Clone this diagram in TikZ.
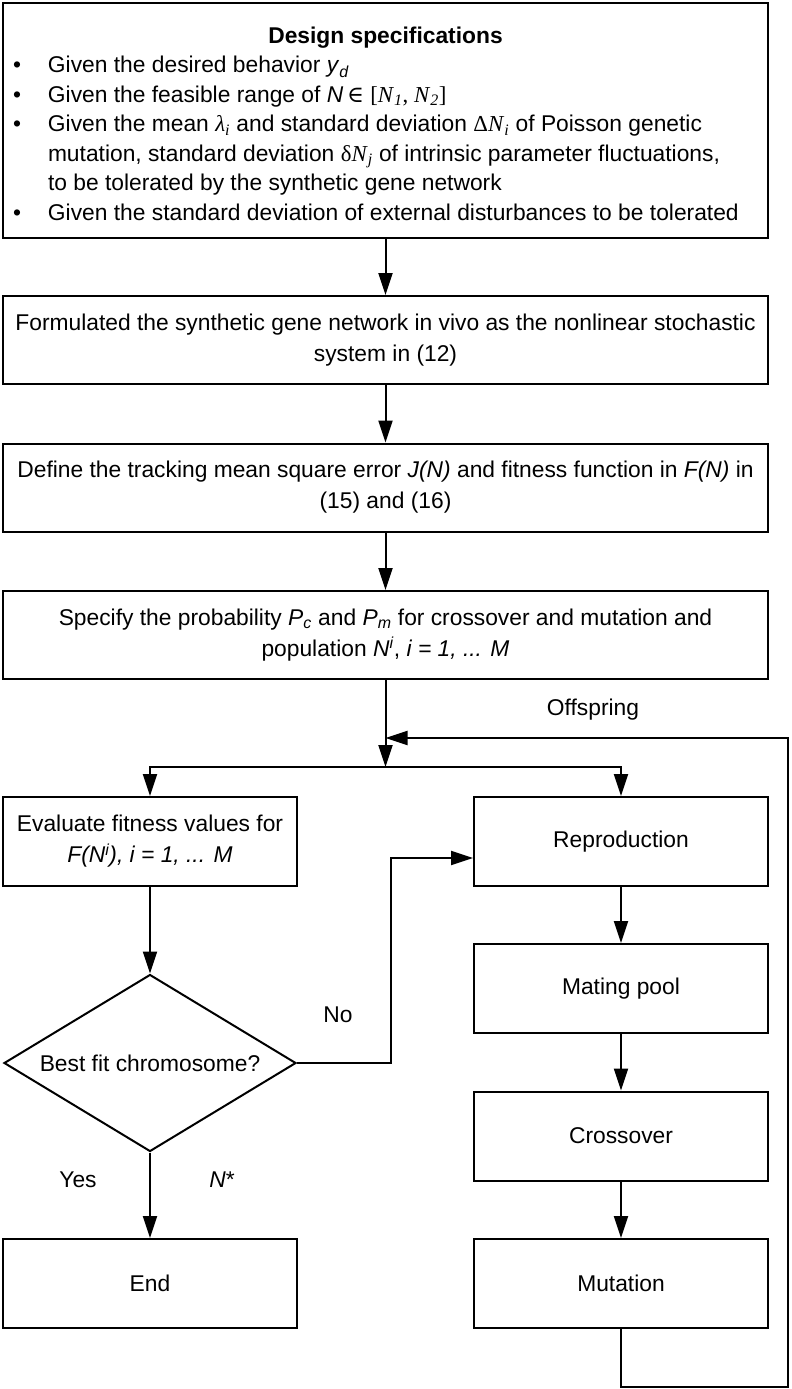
\documentclass[tikz,border=0pt]{standalone}
\usepackage{fontspec}
\setmainfont{Liberation Sans}
\newfontfamily\serifit{Liberation Serif}
\newfontfamily\dvs{DejaVu Serif}
\usetikzlibrary{arrows.meta,shapes.geometric}
\newcommand{\mysub}[1]{\textsubscript{#1}}
\newcommand{\mysup}[1]{\textsuperscript{#1}}
\newcommand{\bul}{\makebox[35pt][l]{\textbullet}}
\tikzset{
  txt/.style={font=\fontsize{22.8}{31}\selectfont},
  box/.style={draw, line width=2pt, minimum width=765pt, minimum height=88pt,
    inner sep=0pt, align=center, txt},
  sbox/.style={box, minimum width=294pt, minimum height=89pt},
  arr/.style={line width=2pt, -{Triangle[length=22pt,width=14pt]}},
  lbl/.style={txt, inner sep=0pt},
}
\begin{document}
\begin{tikzpicture}[x=1pt,y=-1pt]
\useasboundingbox (0,0) rectangle (792,1389);
% main column
\node[box, minimum height=235pt] (spec) at (385.5,120.5) {%
\begin{minipage}{745pt}\fontsize{22.8}{29.5}\selectfont\parindent=0pt
\vspace*{6pt}
{\centering\textbf{Design specifications}\par}
\raggedright
\bul Given the desired behavior \textit{y}\mysub{\textit{d}}\par
\bul Given the feasible range of \textit{N}\,{\dvs ∈} {\serifit [\textit{N}\mysub{\textit{1}}, \textit{N}\mysub{\textit{2}}]}\par
\hangindent=35pt\hangafter=1
\bul Given the mean {\serifit\textit{λ}\mysub{\textit{i}}} and standard deviation {\serifit Δ\textit{N}\mysub{\textit{i}}} of Poisson genetic\newline
mutation, standard deviation {\serifit δ\textit{N}\mysub{\textit{j}}} of intrinsic parameter fluctuations,\newline
to be tolerated by the synthetic gene network\par
\bul Given the standard deviation of external disturbances to be tolerated\par
\end{minipage}};
\node[box] (form) at (385.5,340) {Formulated the synthetic gene network in vivo as the nonlinear stochastic\\system in (12)};
\node[box] (def) at (385.5,487.5) {Define the tracking mean square error \textit{J(N)} and fitness function in \textit{F(N)} in\\(15) and (16)};
\node[box] (prob) at (385.5,635) {Specify the probability \textit{P}\mysub{\textit{c}} and \textit{P}\mysub{\textit{m}} for crossover and mutation and\\population \textit{N}\mysup{\textit{i}}, \textit{i = 1, ... M}};
\coordinate (merge) at (385.5,738);
\coordinate (split) at (385.5,767);
% left column
\node[sbox] (eval) at (150,841.5) {Evaluate fitness values for\\\textit{F(N\mysup{i}), i = 1, ... M}};
\node[draw, line width=2pt, shape=diamond, shape aspect=1.65, minimum width=292pt,
  minimum height=177pt, inner sep=0pt, txt] (dia) at (150,1063) {Best fit chromosome?};
\node[sbox] (end) at (150,1283.5) {End};
% right column
\node[sbox] (repr) at (621,841.5) {Reproduction};
\node[sbox] (mate) at (621,988.5) {Mating pool};
\node[sbox] (cross) at (621,1136) {Crossover};
\node[sbox] (mut) at (621,1283.5) {Mutation};
% connectors
\draw[arr] (spec.south) -- (form.north);
\draw[arr] (form.south) -- (def.north);
\draw[arr] (def.south) -- (prob.north);
\draw[arr] (prob.south) -- (split);
\draw[arr] (split) -| (eval.north);
\draw[arr] (split) -| (repr.north);
\draw[arr] (eval.south) -- (dia.north);
\draw[arr] (dia.south) -- (end.north);
\draw[arr] (dia.east) -- ++(94,0) |- ([yshift=-16.5pt]repr.west);
\draw[arr] (repr.south) -- (mate.north);
\draw[arr] (mate.south) -- (cross.north);
\draw[arr] (cross.south) -- (mut.north);
\draw[arr] (mut.south) |- (788,1387) -- (788,738) -- (merge);
% labels
\node[lbl] (off) at (593,710) {Offspring};
\node[lbl] (no) at (338,1015) {No};
\node[lbl] (yes) at (78,1180) {Yes};
\node[lbl] (nstar) at (222,1180) {\textit{N}*};
\end{tikzpicture}
\end{document}
